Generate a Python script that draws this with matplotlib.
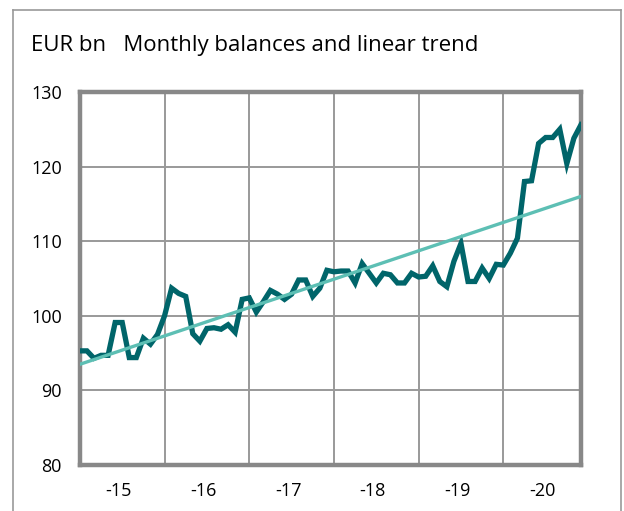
import numpy as np
import matplotlib.pyplot as plt
from matplotlib.lines import Line2D

plt.rcParams['font.family'] = ['Open Sans', 'DejaVu Sans']

# Monthly balances, EUR bn, Jan 2015 - Dec 2020
balances = [95.3, 95.3, 94.3, 94.7, 94.7, 99.1, 99.1, 94.4, 94.4, 97.0, 96.2, 97.5,
            100.0, 103.7, 103.0, 102.6, 97.6, 96.6, 98.3, 98.4, 98.2, 98.8, 97.8, 102.2,
            102.4, 100.5, 101.9, 103.4, 102.9, 102.2, 102.9, 104.8, 104.8, 102.6, 103.7, 106.1,
            105.9, 106.0, 106.0, 104.4, 107.0, 105.7, 104.4, 105.7, 105.5, 104.4, 104.4, 105.7,
            105.2, 105.3, 106.7, 104.6, 103.9, 107.3, 109.7, 104.6, 104.6, 106.4, 105.0, 106.9,
            106.8, 108.4, 110.4, 118.0, 118.1, 123.1, 123.9, 123.9, 125.0, 120.4, 123.8, 125.6]
# linear trend, value at first and last month
trend_months = [0, 71]
trend_values = [93.5, 116.0]
year_labels = ['-15', '-16', '-17', '-18', '-19', '-20']

months = np.arange(len(balances))

fig = plt.figure(figsize=(6.24, 5.11), dpi=100)
ax = fig.add_axes([0.128, 0.090, 0.803, 0.730])

ax.plot(months, balances, color='#00656a', lw=3.8, solid_joinstyle='miter', zorder=3)
ax.plot(trend_months, trend_values, color='#5dbfb4', lw=2.4, zorder=4)

ax.set_xlim(0, 71)
ax.set_ylim(80, 130)
ax.set_yticks([80, 90, 100, 110, 120, 130])
ax.set_xticks([5.5 + 12 * i for i in range(6)])
ax.set_xticklabels(year_labels)
ax.set_xticks([12, 24, 36, 48, 60], minor=True)
ax.tick_params(axis='both', which='both', length=0, labelsize=13, colors='black')
ax.tick_params(axis='y', pad=13)
ax.tick_params(axis='x', pad=12)
ax.grid(axis='y', which='major', color='#999999', lw=1.4)
ax.grid(axis='x', which='minor', color='#999999', lw=1.4)
for s in ax.spines.values():
    s.set_color('#888888')
    s.set_linewidth(3.2)

fig.text(31 / 624, 1 - 45 / 511, 'EUR bn   Monthly balances and linear trend',
         fontsize=16, va='center', ha='left')

# outer frame (bottom edge cut off)
fc = '#999999'
fig.add_artist(Line2D([13 / 624, 13 / 624], [0, 1 - 10 / 511], color=fc, lw=1.2))
fig.add_artist(Line2D([13 / 624, 621 / 624], [1 - 10 / 511, 1 - 10 / 511], color=fc, lw=1.2))
fig.add_artist(Line2D([621 / 624, 621 / 624], [0, 1 - 10 / 511], color=fc, lw=1.2))

fig.savefig('out.png', dpi=100)
